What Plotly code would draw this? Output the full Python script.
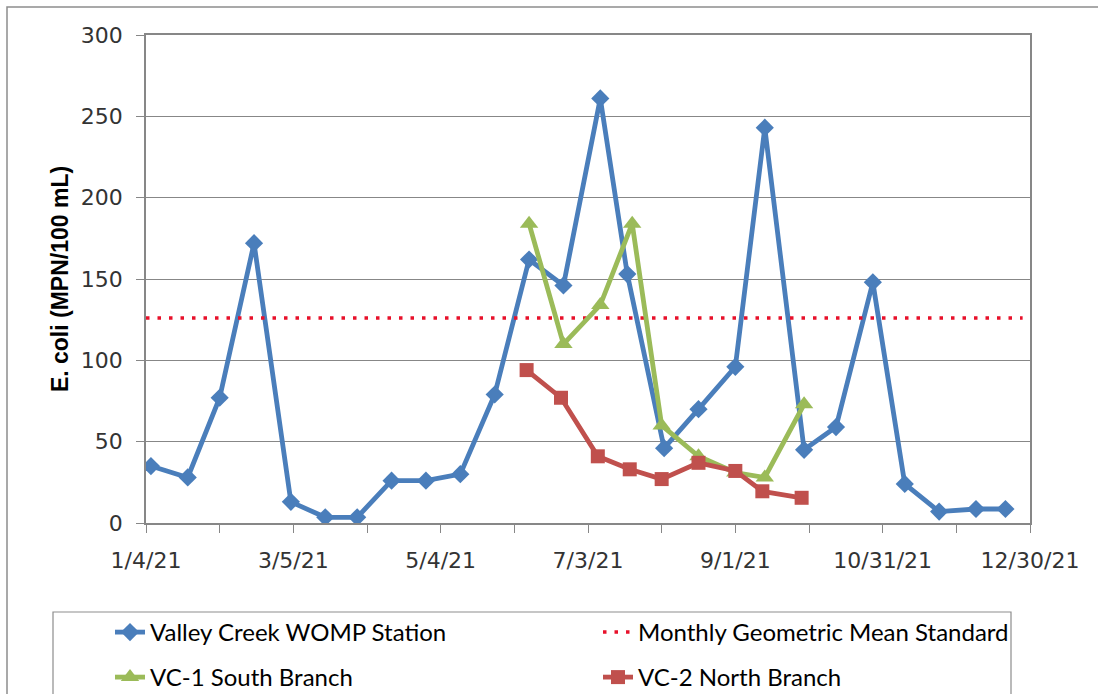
import plotly.graph_objects as go

# ---------------- data ----------------
womp_dates = ["2021-01-06", "2021-01-21", "2021-02-03", "2021-02-17", "2021-03-04",
              "2021-03-18", "2021-03-31", "2021-04-14", "2021-04-28", "2021-05-12",
              "2021-05-26", "2021-06-09", "2021-06-23", "2021-07-08", "2021-07-19",
              "2021-08-03", "2021-08-17", "2021-09-01", "2021-09-13", "2021-09-29",
              "2021-10-12", "2021-10-27", "2021-11-09", "2021-11-23", "2021-12-08",
              "2021-12-20"]
womp_values = [35, 28, 77, 172, 13, 3.5, 3.5, 26, 26, 30, 79, 162, 146, 261, 153,
               46, 70, 96, 243, 45, 59, 148, 24, 7, 8.6, 8.6]

vc1_dates = ["2021-06-09", "2021-06-23", "2021-07-08", "2021-07-21", "2021-08-02",
             "2021-08-17", "2021-09-01", "2021-09-13", "2021-09-29"]
vc1_values = [184, 110, 134, 184, 60, 41, 31, 28, 73]

vc2_dates = ["2021-06-08", "2021-06-22", "2021-07-07", "2021-07-20", "2021-08-02",
             "2021-08-17", "2021-09-01", "2021-09-12", "2021-09-28"]
vc2_values = [94, 77, 41, 33, 27, 37, 32, 19.5, 15.5]

std_dates = ["2021-01-04", "2021-12-27"]
std_values = [126, 126]

x_start = "2021-01-04"
x_end = "2021-12-30"
y_range = [0, 300]

# ---------------- layout helpers ----------------
W, H = 1098, 694
L, R, T, B = 146, 68, 35, 171
PW, PH = W - L - R, H - T - B
DAY = 86400000


def px_x(x):
    return (x - L) / PW


def px_y(y):
    return (H - B - y) / PH


GRID = "#878787"
BLUE = "#4A7EBB"
GREEN = "#9BBB59"
RED = "#C0504D"
STD_RED = "#E8102A"

fig = go.Figure()

fig.add_trace(go.Scatter(
    x=womp_dates, y=womp_values, name="Valley Creek WOMP Station",
    mode="lines+markers", line=dict(color=BLUE, width=4.8),
    marker=dict(symbol="diamond", size=14, color=BLUE), legend="legend"))

fig.add_trace(go.Scatter(
    x=std_dates, y=std_values, name="Monthly Geometric Mean Standard",
    mode="lines", line=dict(color=STD_RED, width=3.5, dash="3.5px,8px"),
    legend="legend"))

fig.add_trace(go.Scatter(
    x=vc1_dates, y=vc1_values, name="VC-1 South Branch",
    mode="lines+markers", line=dict(color=GREEN, width=4.8),
    marker=dict(symbol="triangle-up", size=16, color=GREEN), legend="legend2"))

fig.add_trace(go.Scatter(
    x=vc2_dates, y=vc2_values, name="VC-2 North Branch",
    mode="lines+markers", line=dict(color=RED, width=4.8),
    marker=dict(symbol="square", size=14, color=RED), legend="legend2"))

tick_font = dict(family="DejaVu Sans", size=22, color="#333333")

fig.update_xaxes(
    type="date", range=[x_start, x_end],
    tick0=x_start, dtick=60 * DAY, tickformat="%-m/%-d/%y",
    ticks="outside", ticklen=8, tickcolor=GRID, tickwidth=1,
    minor=dict(tick0=x_start, dtick=30 * DAY, ticks="outside", ticklen=8,
               tickcolor=GRID, tickwidth=1, showgrid=False),
    showgrid=False, showline=True, linecolor=GRID, linewidth=1.5, mirror=True,
    tickfont=tick_font, ticklabelstandoff=9, zeroline=False)

fig.update_yaxes(
    range=y_range, dtick=50, tick0=0,
    ticks="outside", ticklen=8, tickcolor=GRID, tickwidth=1,
    showgrid=True, gridcolor=GRID, gridwidth=1.2,
    showline=True, linecolor=GRID, linewidth=1.5, mirror=True,
    tickfont=tick_font, ticklabelstandoff=9, zeroline=False,
    title=dict(text="E. coli (MPN/100 mL)", standoff=6,
               font=dict(family="Liberation Sans", size=23, color="black",
                         weight="bold")))

legend_font = dict(family="Lato", size=24, color="black")
common_legend = dict(orientation="h", entrywidth=443, entrywidthmode="pixels",
                     itemwidth=30, xanchor="left", yanchor="top",
                     bgcolor="rgba(0,0,0,0)", borderwidth=0, font=legend_font,
                     traceorder="normal")

fig.update_layout(
    width=W, height=H,
    margin=dict(l=L, r=R, t=T, b=B, autoexpand=False),
    paper_bgcolor="white", plot_bgcolor="white",
    showlegend=True,
    legend=dict(x=px_x(110), y=px_y(610), **common_legend),
    legend2=dict(x=px_x(110), y=px_y(655), **common_legend),
    shapes=[
        # outer chart border
        dict(type="rect", xref="paper", yref="paper",
             x0=px_x(7), x1=px_x(1102), y0=px_y(7), y1=px_y(760),
             line=dict(color="#8D8D8D", width=1.5), fillcolor="rgba(0,0,0,0)"),
        # legend box
        dict(type="rect", xref="paper", yref="paper",
             x0=px_x(53), x1=px_x(1011), y0=px_y(612), y1=px_y(760),
             line=dict(color="#8D8D8D", width=1.2), fillcolor="rgba(0,0,0,0)"),
    ],
)

fig.write_html("out.html",
               config={"displayModeBar": False},
               post_script="document.body.style.margin='0';"
                           "document.body.style.overflow='hidden';")
